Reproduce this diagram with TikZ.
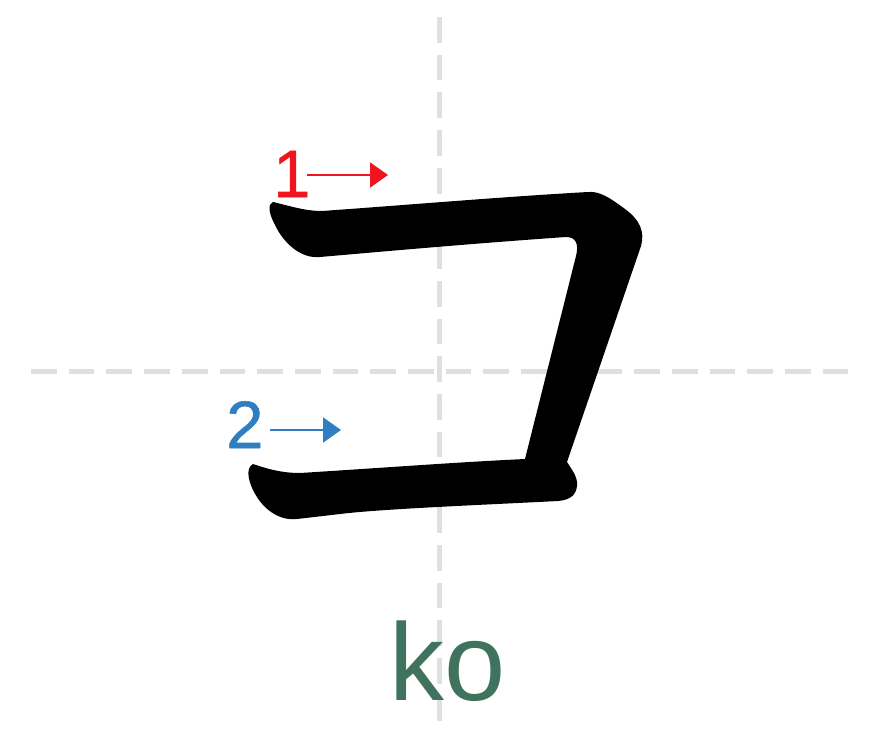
\documentclass[tikz,border=0pt]{standalone}
\usepackage{fontspec}
\setmainfont{Liberation Sans}
\newfontfamily\numfont[FakeBold=0.8]{Liberation Sans}
\usetikzlibrary{arrows.meta}
\definecolor{gridgrey}{RGB}{220,224,222}
\definecolor{strokered}{RGB}{240,20,30}
\definecolor{strokeblue}{RGB}{47,126,193}
\definecolor{kogreen}{RGB}{64,115,94}
\tikzset{
  guide/.style={draw=gridgrey, line width=5pt, dash pattern=on 25.7pt off 12pt},
  ordernum/.style={inner sep=0pt, anchor=base west, font=\numfont\fontsize{67}{67}\selectfont},
  orderarrow/.style={line width=2pt, -{Triangle[length=18pt,width=25pt]}},
  glyph/.style={fill=black, draw=none}
}
\begin{document}
\begin{tikzpicture}[x=1pt,y=-1pt]
\useasboundingbox[fill=white] (0,0) rectangle (880,739);
% guide lines
\draw[guide] (439,17) -- (439,722);
\draw[guide] (31,371) -- (848,371);
% glyph
\path[glyph] (273,202) .. controls (290,206) and (305,211) .. (322,211)
  .. controls (420,204) and (500,197) .. (588,192)
  .. controls (600,191) and (610,198) .. (625,209)
  .. controls (640,220) and (645,232) .. (641,246)
  -- (567,462)
  .. controls (572,470) and (578,477) .. (577,486)
  .. controls (576,496) and (569,500) .. (558,501)
  .. controls (480,505) and (380,509) .. (340,514)
  -- (297,519)
  .. controls (280,521) and (265,510) .. (257,497)
  .. controls (248,483) and (245,468) .. (253,464)
  .. controls (265,468) and (280,473) .. (300,473)
  .. controls (380,468) and (460,462) .. (525,459)
  -- (576,256)
  .. controls (579,244) and (576,237) .. (566,237)
  .. controls (480,243) and (400,250) .. (320,257)
  .. controls (300,259) and (283,242) .. (275,225)
  .. controls (268,212) and (268,204) .. (273,202) -- cycle;
% stroke order labels
\node[ordernum, text=strokered] (n1) at (273,197) {1};
\coordinate (a1s) at (307,175);
\coordinate (a1e) at (388,175);
\draw[orderarrow, strokered] (a1s) -- (a1e);
\node[ordernum, text=strokeblue] (n2) at (226,448) {2};
\coordinate (a2s) at (270,430);
\coordinate (a2e) at (341,430);
\draw[orderarrow, strokeblue] (a2s) -- (a2e);
% romaji
\node[inner sep=0pt, anchor=base west, text=kogreen, font=\fontsize{110}{110}\selectfont] (ko) at (389,700) {ko};
\end{tikzpicture}
\end{document}
